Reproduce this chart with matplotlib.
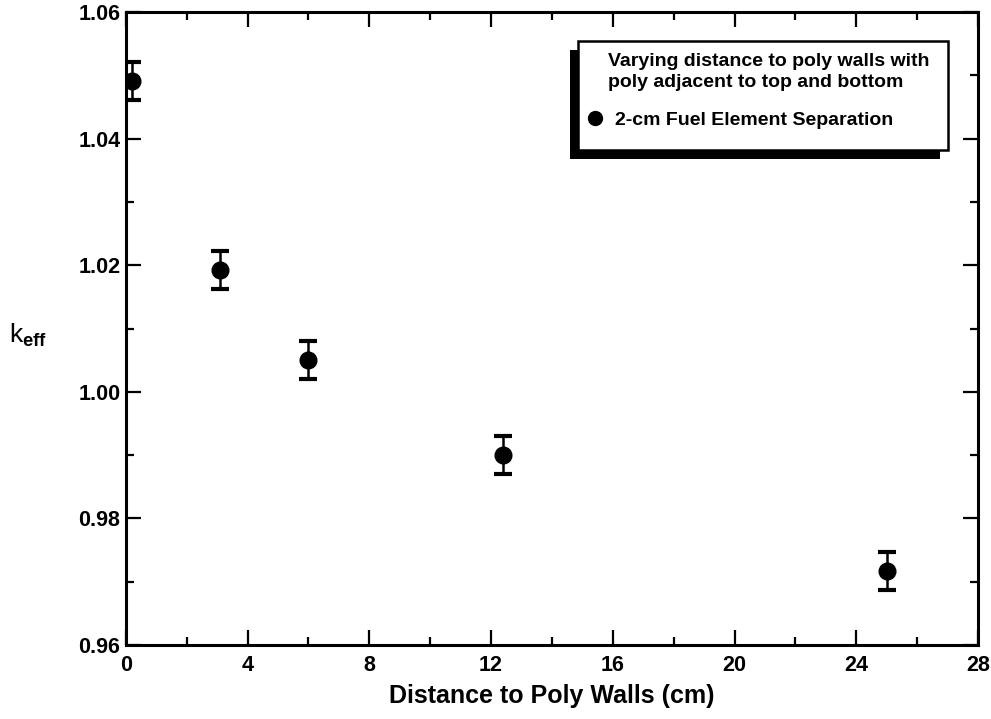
import matplotlib
matplotlib.use('Agg')
import numpy as np
from matplotlib import pyplot as plt
from matplotlib.patches import Rectangle
from matplotlib.lines import Line2D
from matplotlib.ticker import MultipleLocator, FormatStrFormatter

plt.rcParams['font.family'] = ['Liberation Sans', 'DejaVu Sans']
plt.rcParams['font.weight'] = 'bold'
plt.rcParams['mathtext.fontset'] = 'custom'
plt.rcParams['mathtext.rm'] = 'Liberation Sans:bold'
plt.rcParams['mathtext.it'] = 'Liberation Sans:bold'

# distance to poly walls (cm) and measured k-eff
distance = [0.2, 3.1, 6.0, 12.4, 25.0]
keff = [1.0492, 1.0193, 1.0051, 0.9900, 0.9717]
keff_err = [0.003, 0.003, 0.003, 0.003, 0.003]

legend_title = 'Varying distance to poly walls with\npoly adjacent to top and bottom'
series_label = '2-cm Fuel Element Separation'

fig = plt.figure(figsize=(9.91, 7.19), dpi=100)
ax = fig.add_axes([0.127, 0.103, 0.86, 0.88])

ax.errorbar(distance, keff, yerr=keff_err, fmt='o', color='black',
            markersize=12, elinewidth=1.8, capsize=6.2, capthick=3)

ax.set_xlim(0, 28)
ax.set_ylim(0.96, 1.06)
ax.xaxis.set_major_locator(MultipleLocator(4))
ax.xaxis.set_minor_locator(MultipleLocator(2))
ax.yaxis.set_major_locator(MultipleLocator(0.02))
ax.yaxis.set_minor_locator(MultipleLocator(0.01))
ax.yaxis.set_major_formatter(FormatStrFormatter('%.2f'))
ax.tick_params(which='both', direction='in', top=True, right=True, width=1.6)
ax.tick_params(which='major', length=11, labelsize=15.5)
ax.tick_params(axis='x', which='major', pad=7)
ax.tick_params(axis='y', which='major', pad=4)
ax.tick_params(which='minor', length=5.5)
for lab in ax.get_xticklabels() + ax.get_yticklabels():
    lab.set_fontweight('bold')
for sp in ax.spines.values():
    sp.set_linewidth(2.2)

ax.set_xlabel('Distance to Poly Walls (cm)', fontsize=18, fontweight='bold', labelpad=6)
ax.set_ylabel(r'k$_{\rm eff}$', fontsize=19, rotation=0, va='center')
ax.yaxis.set_label_coords(-0.115, 0.49)

# legend box with a solid drop shadow down and to the left
box_x0, box_y0, box_w, box_h = 0.5305, 0.782, 0.4345, 0.172
ax.add_patch(Rectangle((box_x0 - 0.0094, box_y0 - 0.0142), box_w, box_h,
                       transform=ax.transAxes, facecolor='black', edgecolor='none',
                       zorder=4, clip_on=False))
ax.add_patch(Rectangle((box_x0, box_y0), box_w, box_h, transform=ax.transAxes,
                       facecolor='white', edgecolor='black', linewidth=1.8,
                       zorder=5, clip_on=False))
ax.text(0.566, 0.936, legend_title, transform=ax.transAxes, ha='left', va='top',
        fontsize=14, fontweight='bold', linespacing=1.35, zorder=6)

handle = Line2D([], [], marker='o', linestyle='none', color='black', markersize=10)
leg = ax.legend([handle], [series_label], loc='center left',
                bbox_to_anchor=(0.540, 0.830), frameon=False, borderpad=0,
                borderaxespad=0, handlelength=0.95, handletextpad=0.55,
                prop={'size': 14, 'weight': 'bold'})
leg.set_zorder(6)

fig.savefig('out.png', dpi=100)
